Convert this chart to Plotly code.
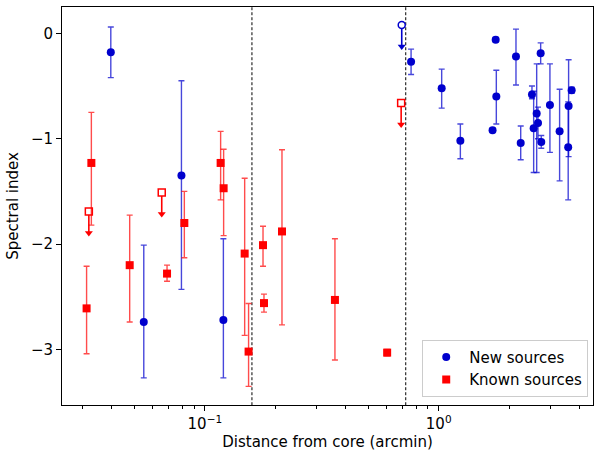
import plotly.graph_objects as go

# ---------------- data ----------------
# New sources (detections)
new_x = [0.0396, 0.0794, 0.0548, 0.120, 0.762, 1.03, 1.238, 1.70, 1.753, 1.764, 2.141, 2.243,
         2.506, 2.548, 2.625, 2.659, 2.73, 2.746, 2.991, 3.29, 3.595, 3.58, 3.704]
new_y = [-0.18, -1.35, -2.74, -2.72, -0.27, -0.52, -1.02, -0.92, -0.06, -0.60, -0.22, -1.04,
         -0.58, -0.90, -0.76, -0.85, -0.19, -1.03, -0.68, -0.93, -0.69, -1.08, -0.54]
new_err_up = [0.24, 0.90, 0.73, 0.77, 0.12, 0.18, 0.16, 0.02, 0.02, 0.25, 0.26, 0.16,
              0.08, 0.35, 0.47, 0.15, 0.10, 0.06, 0.39, 0.40, 0.44, 0.43, 0.03]
new_err_down = [0.24, 1.08, 0.53, 0.55, 0.12, 0.19, 0.17, 0.02, 0.02, 0.26, 0.27, 0.16,
                0.04, 0.42, 0.56, 0.15, 0.10, 0.06, 0.45, 0.47, 0.48, 0.50, 0.03]
# New sources (upper limits)
new_ul_x = [0.695]
new_ul_y = [0.08]

# Known sources (detections)
known_x = [0.0327, 0.0312, 0.0477, 0.0689, 0.0817, 0.1168, 0.1203, 0.148, 0.1538, 0.1773,
           0.179, 0.2137, 0.360, 0.602]
known_y = [-1.23, -2.61, -2.20, -2.28, -1.80, -1.23, -1.47, -2.09, -3.02, -2.01,
           -2.56, -1.88, -2.53, -3.03]
known_err_up = [0.48, 0.40, 0.475, 0.08, 0.30, 0.30, 0.37, 0.715, 0.456, 0.18,
                0.085, 0.775, 0.58, 0.03]
known_err_down = [0.59, 0.43, 0.54, 0.073, 0.33, 0.35, 0.45, 0.776, 0.33, 0.20,
                  0.086, 0.887, 0.57, 0.03]
# Known sources (upper limits)
known_ul_x = [0.0319, 0.0654, 0.691]
known_ul_y = [-1.69, -1.51, -0.66]

# region boundaries (arcmin)
boundaries = [0.159, 0.723]

# tick labels
x_tickvals = [0.1, 1.0]
x_ticktext = ["10<sup>−1</sup>", "10<sup>0</sup>"]
x_minor_vals = [0.03, 0.04, 0.05, 0.06, 0.07, 0.08, 0.09, 0.2, 0.3, 0.4, 0.5, 0.6,
                0.7, 0.8, 0.9, 2, 3, 4]
y_tickvals = [0, -1, -2, -3]
y_ticktext = ["0", "−1", "−2", "−3"]

# ---------------- style ----------------
BLUE = "#0000CD"
RED = "#FF0000"
BLUE_ERR = "rgba(0,0,205,0.72)"
RED_ERR = "rgba(255,0,0,0.70)"
UL_LEN = 0.235
FONT = "DejaVu Sans"
FS = 15

fig = go.Figure()

# dashed region boundaries
for b in boundaries:
    fig.add_trace(go.Scatter(x=[b, b], y=[-5, 5], mode="lines",
                             line=dict(color="black", width=1, dash="3px,2px"),
                             showlegend=False, hoverinfo="skip"))


def add_ul(xs, ys, color, symbol):
    lx, ly = [], []
    for x, y in zip(xs, ys):
        lx += [x, x, None]
        ly += [y, y - UL_LEN + 0.03, None]
    fig.add_trace(go.Scatter(x=lx, y=ly, mode="lines", line=dict(color=color, width=1.6),
                             showlegend=False, hoverinfo="skip"))
    fig.add_trace(go.Scatter(x=xs, y=[y - UL_LEN + 0.03 for y in ys], mode="markers",
                             marker=dict(symbol="triangle-down", size=7, color=color),
                             showlegend=False, hoverinfo="skip"))
    fig.add_trace(go.Scatter(x=xs, y=ys, mode="markers",
                             marker=dict(symbol=symbol, size=7, color="white",
                                         line=dict(color=color, width=1.5)),
                             showlegend=False))


add_ul(new_ul_x, new_ul_y, BLUE, "circle")
add_ul(known_ul_x, known_ul_y, RED, "square")

fig.add_trace(go.Scatter(
    x=new_x, y=new_y, mode="markers", name="New sources",
    marker=dict(symbol="circle", size=8, color=BLUE),
    error_y=dict(type="data", symmetric=False, array=new_err_up, arrayminus=new_err_down,
                 color=BLUE_ERR, thickness=1.4, width=3)))

fig.add_trace(go.Scatter(
    x=known_x, y=known_y, mode="markers", name="Known sources",
    marker=dict(symbol="square", size=8, color=RED),
    error_y=dict(type="data", symmetric=False, array=known_err_up, arrayminus=known_err_down,
                 color=RED_ERR, thickness=1.4, width=3)))

fig.update_layout(
    width=594, height=451,
    margin=dict(l=62, r=1, t=7, b=46),
    paper_bgcolor="white", plot_bgcolor="white",
    font=dict(family=FONT, size=FS, color="black"),
    legend=dict(x=0.991, y=0.021, xanchor="right", yanchor="bottom",
                bgcolor="rgba(255,255,255,0.8)", bordercolor="#cccccc", borderwidth=1,
                font=dict(size=FS), itemwidth=36, tracegroupgap=2),
    showlegend=True,
)

fig.update_xaxes(
    type="log", range=[-1.611, 0.66],
    tickvals=x_tickvals, ticktext=x_ticktext, tickfont=dict(size=FS),
    ticks="outside", ticklen=5, tickwidth=1, tickcolor="black",
    minor=dict(ticks="outside", ticklen=3, tickwidth=0.8, tickcolor="black",
               tickvals=x_minor_vals, showgrid=False),
    showline=True, linecolor="black", linewidth=1, mirror=True,
    showgrid=False, zeroline=False, automargin=False,
    title=dict(text="Distance from core (arcmin)", font=dict(size=FS), standoff=6),
)
fig.update_yaxes(
    range=[-3.527, 0.25],
    tickvals=y_tickvals, ticktext=y_ticktext, tickfont=dict(size=FS),
    ticks="outside", ticklen=5, tickwidth=1, tickcolor="black",
    showline=True, linecolor="black", linewidth=1, mirror=True,
    showgrid=False, zeroline=False, automargin=False,
    title=dict(text="Spectral index", font=dict(size=FS), standoff=8),
)

fig.write_html("out.html", config={"displayModeBar": False},
               post_script="document.body.style.margin='0';")
